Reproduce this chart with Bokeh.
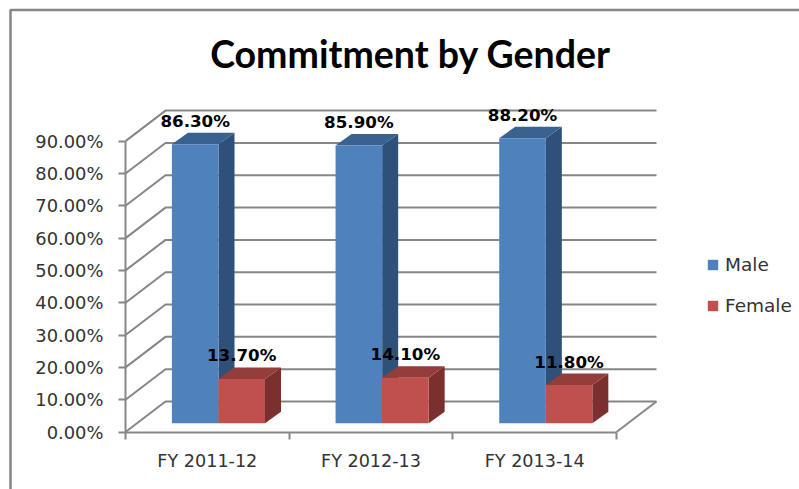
from bokeh.plotting import figure
from bokeh.embed import file_html
from bokeh.resources import INLINE
from bokeh.models import Range1d, LinearAxis, FixedTicker, PrintfTickFormatter, Legend, LegendItem, Label
from bokeh.core.properties import value

categories = ["FY 2011-12", "FY 2012-13", "FY 2013-14"]
male = [86.3, 85.9, 88.2]
female = [13.7, 14.1, 11.8]
y_ticks = [0, 10, 20, 30, 40, 50, 60, 70, 80, 90]
series_names = ["Male", "Female"]
title_text = "Commitment by Gender"

W, H = 799, 489
PX_X = 163.67           # pixels per category
PX_Y = 3.232            # pixels per percent
X0, Y0 = 125, 431.5     # pixel position of the origin
sx = 1 / PX_X
sy = 1 / PX_Y
GRID = "#868686"
TEXT = "#333333"

p = figure(width=W, height=H, output_backend="svg", toolbar_location=None, min_border=0,
           x_axis_type=None, y_axis_type=None,
           x_range=Range1d(-X0 * sx, (W - X0) * sx),
           y_range=Range1d(-(H - Y0) * sy, Y0 * sy))
p.outline_line_color = None
p.background_fill_color = "white"
p.grid.visible = False

# outer chart border
xl = (10 - X0) * sx
yt = (Y0 - 9.5) * sy
p.line([xl, xl, (W - X0) * sx], [-(H - Y0) * sy, yt, yt], line_color=GRID, line_width=2.5)

# walls and floor
wall_dx = 40 * sx
wall_dy = 30.5 * sy
n = len(categories)
for t in y_ticks:
    p.line([0, wall_dx, n + wall_dx], [t, t + wall_dy, t + wall_dy], line_color=GRID, line_width=2)
p.line([n, n + wall_dx], [0, wall_dy], line_color=GRID, line_width=2)

# bars
base = 8.8 * sy
bar_l = [46.4 * sx, 92.9 * sx]
bar_w = 46.6 * sx
depth_x = 16 * sx
depth_y = 11.5 * sy
front_cols = ["#4F81BD", "#C0504D"]
side_cols = ["#2F5078", "#7B302E"]
top_cols = ["#3A6291", "#943D3A"]

legend_items = []
for i in range(n):
    for s, vals in enumerate([male, female]):
        l = i + bar_l[s]
        r = l + bar_w
        top = base + vals[i]
        p.patch([r, r + depth_x, r + depth_x, r], [base, base + depth_y, top + depth_y, top],
                fill_color=side_cols[s], line_color=None)
        p.patch([l, l + depth_x, r + depth_x, r], [top, top + depth_y, top + depth_y, top],
                fill_color=top_cols[s], line_color=None)
        f = p.patch([l, r, r, l], [base, base, top, top], fill_color=front_cols[s], line_color=None)
        if i == 0:
            legend_items.append(LegendItem(label=series_names[s], renderers=[f]))

# data labels
lx, ly, lt = [], [], []
for i in range(n):
    for s, vals in enumerate([male, female]):
        lx.append(i + bar_l[s] + bar_w / 2)
        ly.append(base + vals[i])
        lt.append("%.2f%%" % vals[i])
p.text(x=lx, y=ly, text=lt, text_align="center", text_baseline="middle", y_offset=-23.5,
       text_font=value("DejaVu Sans"), text_font_size="16.7px", text_color="black", text_font_style="bold")

# axes
yax = LinearAxis(fixed_location=0, bounds=(0, 90), ticker=FixedTicker(ticks=y_ticks),
                 formatter=PrintfTickFormatter(format="%.2f%%"))
yax.major_tick_in = 0
yax.major_tick_out = 7
yax.minor_tick_line_color = None
yax.axis_line_color = GRID
yax.axis_line_width = 2
yax.major_tick_line_color = GRID
yax.major_tick_line_width = 2
yax.major_label_text_font = "DejaVu Sans"
yax.major_label_text_font_size = "17.9px"
yax.major_label_text_color = TEXT
yax.major_label_standoff = 15
p.add_layout(yax, "left")

mids = [i + 0.5 for i in range(n)]
xax = LinearAxis(fixed_location=0, bounds=(0, n),
                 ticker=FixedTicker(ticks=mids, minor_ticks=list(range(n + 1))),
                 major_label_overrides={m: c for m, c in zip(mids, categories)})
xax.axis_line_color = GRID
xax.axis_line_width = 2
xax.major_tick_line_color = None
xax.major_tick_in = 0
xax.major_tick_out = 0
xax.minor_tick_line_color = GRID
xax.minor_tick_line_width = 2
xax.minor_tick_in = 0
xax.minor_tick_out = 7
xax.major_label_standoff = 12
xax.major_label_text_font = "DejaVu Sans"
xax.major_label_text_font_size = "17.6px"
xax.major_label_text_color = TEXT
p.add_layout(xax, "below")

# title
p.add_layout(Label(x=(410 - X0) * sx, y=(Y0 - 52.5) * sy, text=title_text, text_align="center",
                   text_baseline="middle", text_font="Lato", text_font_size="37.5px",
                   text_font_style="bold", text_color="black"))

# legend
leg = Legend(items=legend_items, location=(706, 173), orientation="vertical",
             glyph_width=13, glyph_height=13, spacing=20, padding=0, margin=0,
             label_text_font="DejaVu Sans", label_text_font_size="18.5px", label_text_color=TEXT,
             label_standoff=6, border_line_color=None, background_fill_alpha=0)
p.add_layout(leg)

open("out.html", "w").write(file_html(p, INLINE))
